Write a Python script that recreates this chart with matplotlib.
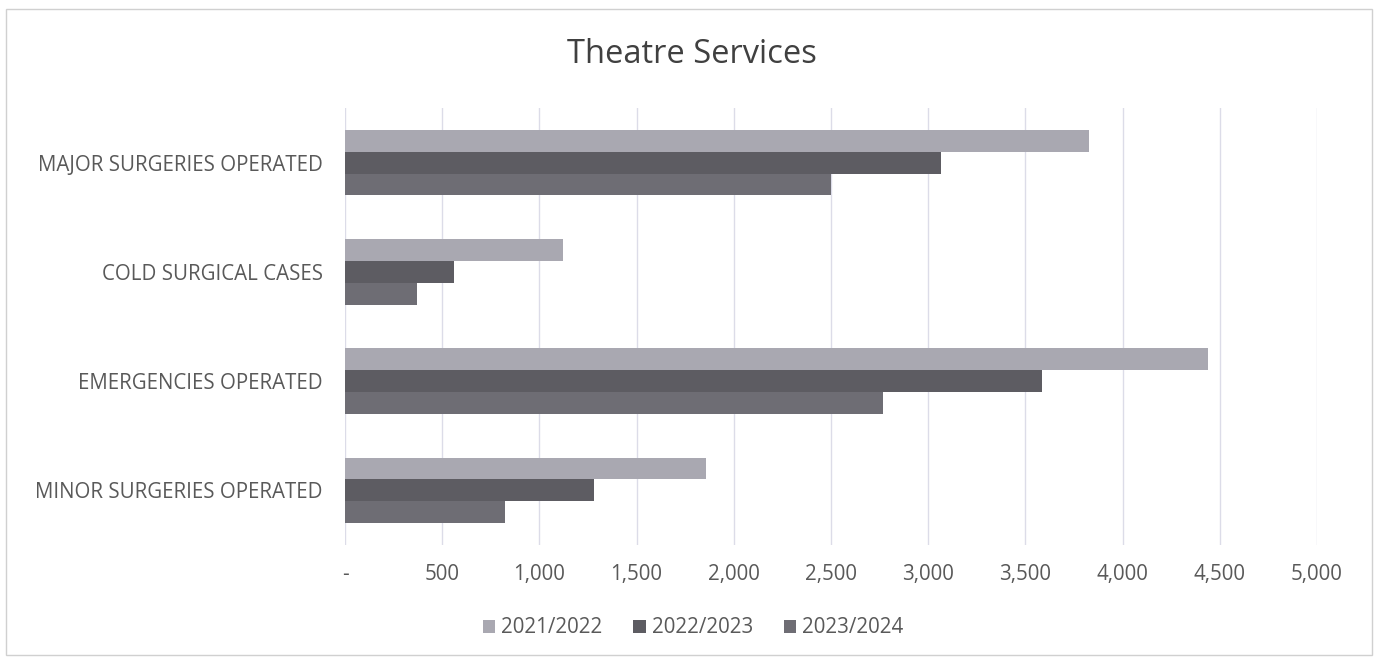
import numpy as np
import matplotlib
matplotlib.use("Agg")
import matplotlib.pyplot as plt
from matplotlib.ticker import FuncFormatter, MultipleLocator
from matplotlib.patches import Rectangle

plt.rcParams["font.family"] = ["Open Sans", "DejaVu Sans"]

categories = ["MAJOR SURGERIES OPERATED", "COLD SURGICAL CASES",
              "EMERGENCIES OPERATED", "MINOR SURGERIES OPERATED"]
years = ["2021/2022", "2022/2023", "2023/2024"]
vals_2021 = [3825, 1120, 4440, 1855]
vals_2022 = [3065, 558, 3585, 1280]
vals_2023 = [2500, 368, 2765, 825]
colors = ["#a9a8b1", "#5d5c62", "#6e6d74"]

TEXT = "#595959"

fig = plt.figure(figsize=(13.78, 6.61), dpi=100)
ax = fig.add_axes([0.2504, 0.1755, 0.7053, 0.6611])

y = np.arange(len(categories))
h = 0.2
for k, (vals, lab, col) in enumerate(zip([vals_2021, vals_2022, vals_2023], years, colors)):
    ax.barh(y + (k - 1) * h, vals, height=h, color=col, label=lab, zorder=2)

ax.set_xlim(0, 5000)
ax.set_ylim(len(categories) - 0.5, -0.5)
ax.xaxis.set_major_locator(MultipleLocator(500))
ax.xaxis.set_major_formatter(FuncFormatter(lambda v, p: "-" if v == 0 else f"{v:,.0f}"))
ax.grid(axis="x", color="#dcdce8", linewidth=1.0, zorder=0)
ax.set_yticks(y)
ax.set_yticklabels(categories)
ax.tick_params(axis="both", length=0, labelsize=14.8, colors=TEXT)
ax.tick_params(axis="x", pad=14)
ax.tick_params(axis="y", pad=16)
for s in ax.spines.values():
    s.set_visible(False)

fig.text(0.502, 0.918, "Theatre Services", ha="center", va="center",
         fontsize=23.5, color="#404040")

fig.legend(loc="center", bbox_to_anchor=(0.503, 0.05), ncol=3, frameon=False,
           fontsize=14.8, labelcolor=TEXT, handlelength=0.6, handleheight=0.6,
           handletextpad=0.3, columnspacing=1.5)

fig.patches.append(Rectangle((0.004, 0.009), 0.992, 0.978, transform=fig.transFigure,
                             fill=False, edgecolor="#d0d0d0", linewidth=1.0))

fig.savefig("out.png", dpi=100)
